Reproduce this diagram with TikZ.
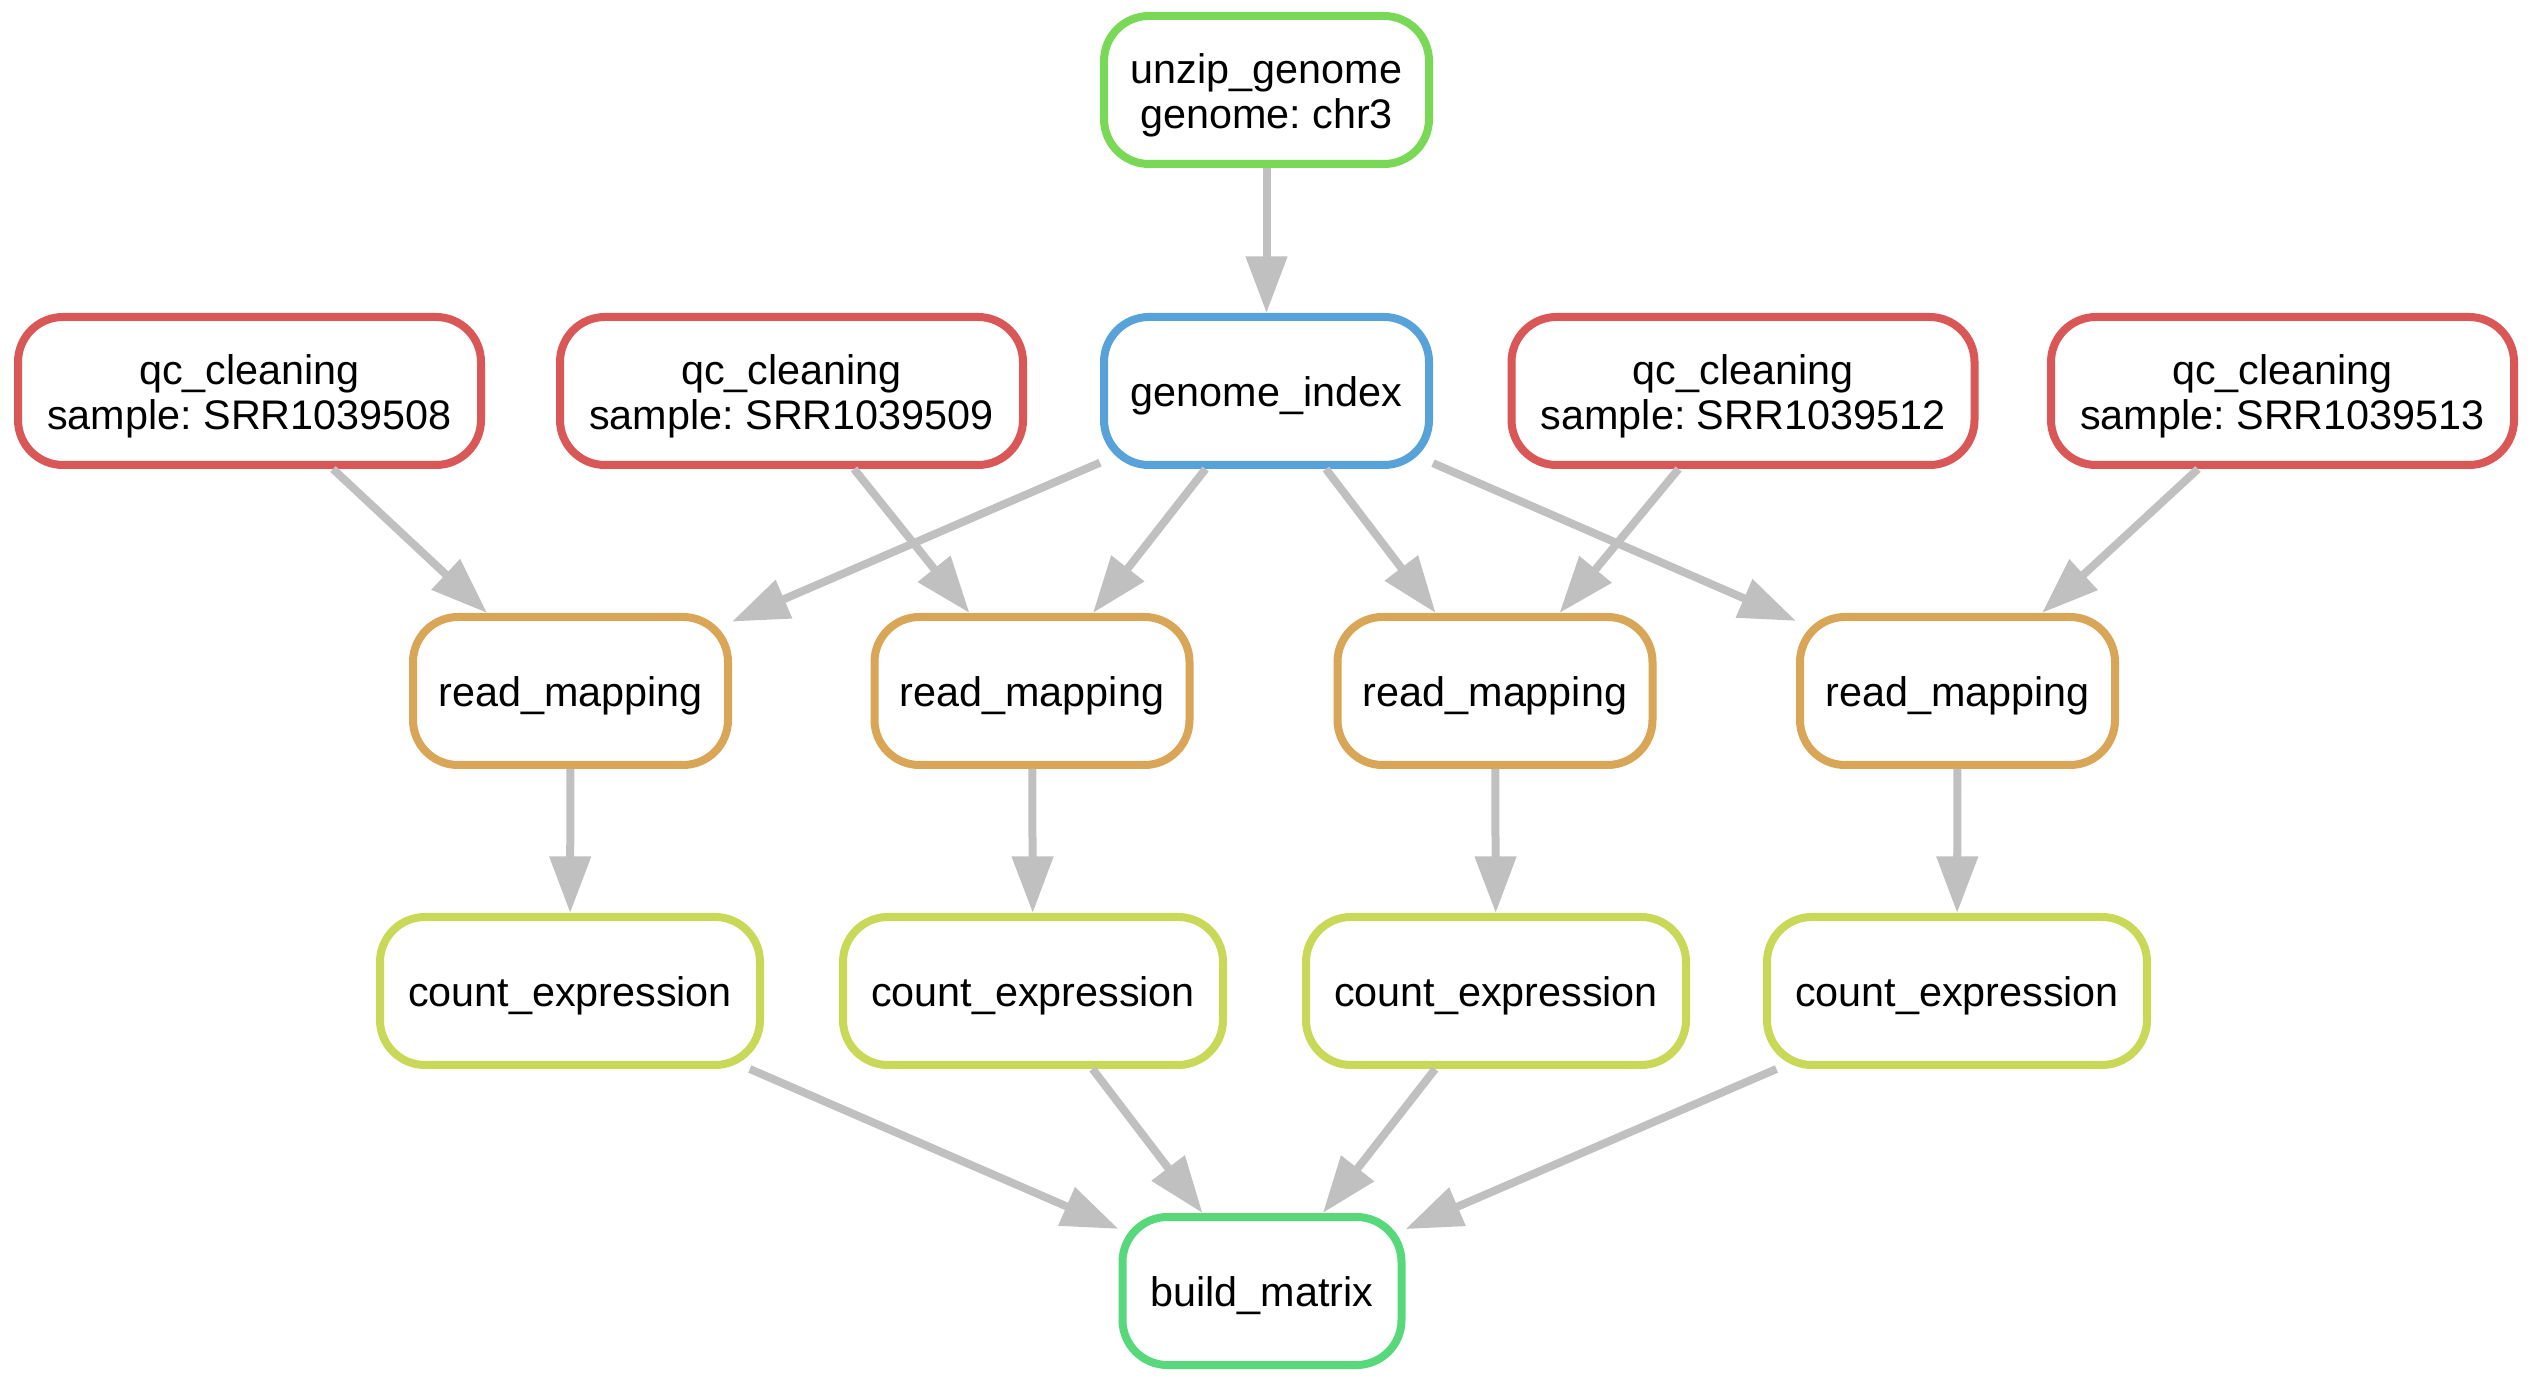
\documentclass[tikz,border=0pt]{standalone}
\usepackage{fontspec}
\setmainfont{Liberation Sans}
\usetikzlibrary{arrows.meta}
\frenchspacing
\definecolor{cred}{RGB}{217,87,87}
\definecolor{corange}{RGB}{217,165,87}
\definecolor{cyg}{RGB}{201,217,87}
\definecolor{cgreenA}{RGB}{121,217,87}
\definecolor{cgreenB}{RGB}{87,217,123}
\definecolor{cblue}{RGB}{87,162,217}
\definecolor{cgray}{RGB}{192,192,192}
\newcommand{\boxtxt}[1]{\raisebox{-2pt}[\height][\depth]{\begin{tabular}{@{}c@{}}#1\end{tabular}}}
\begin{document}
\begin{tikzpicture}[x=0.3pt,y=-0.3pt,
  box/.style={draw, line width=2.4pt, rounded corners=13.5pt, minimum height=44.4pt,
    font=\fontsize{12.4}{13.5}\selectfont, inner sep=0pt, fill=white},
  qcbox/.style={box, draw=cred, minimum width=138.9pt},
  gbox/.style={box, minimum width=97.5pt},
  rmbox/.style={box, draw=corange, minimum width=94.5pt},
  cebox/.style={box, draw=cyg, minimum width=114pt},
  bmbox/.style={box, draw=cgreenB, minimum width=83.7pt},
  edge/.style={draw=cgray, line width=2.4pt, -{Triangle[length=17pt,width=12pt]}}
]
\useasboundingbox (0,0) rectangle (2533,1383);
\node[gbox, draw=cgreenA] (unzip) at (1266.5,90) {\boxtxt{unzip\_genome\\genome: chr3}};
\node[gbox, draw=cblue] (gi) at (1266.5,391) {\boxtxt{genome\_index}};
\node[qcbox] (qa) at (249.5,391) {\boxtxt{qc\_cleaning\\sample: SRR1039508}};
\node[qcbox] (qb) at (791.5,391) {\boxtxt{qc\_cleaning\\sample: SRR1039509}};
\node[qcbox] (qc) at (1743,391) {\boxtxt{qc\_cleaning\\sample: SRR1039512}};
\node[qcbox] (qd) at (2282.5,391) {\boxtxt{qc\_cleaning\\sample: SRR1039513}};
\node[rmbox] (ra) at (570.5,691) {\boxtxt{read\_mapping}};
\node[rmbox] (rb) at (1032,691) {\boxtxt{read\_mapping}};
\node[rmbox] (rc) at (1495,691) {\boxtxt{read\_mapping}};
\node[rmbox] (rd) at (1957.5,691) {\boxtxt{read\_mapping}};
\node[cebox] (ca) at (570,991) {\boxtxt{count\_expression}};
\node[cebox] (cb) at (1033,991) {\boxtxt{count\_expression}};
\node[cebox] (cc) at (1496,991) {\boxtxt{count\_expression}};
\node[cebox] (cd) at (1957,991) {\boxtxt{count\_expression}};
\node[bmbox] (bm) at (1262,1291) {\boxtxt{build\_matrix}};
\draw[edge] (unzip) -- (gi);
\foreach \r in {ra,rb,rc,rd} \draw[edge] (gi) -- (\r);
\draw[edge] (qa) -- (ra);
\draw[edge] (qb) -- (rb);
\draw[edge] (qc) -- (rc);
\draw[edge] (qd) -- (rd);
\draw[edge] (ra) -- (ca);
\draw[edge] (rb) -- (cb);
\draw[edge] (rc) -- (cc);
\draw[edge] (rd) -- (cd);
\foreach \c in {ca,cb,cc,cd} \draw[edge] (\c) -- (bm);
\end{tikzpicture}
\end{document}
